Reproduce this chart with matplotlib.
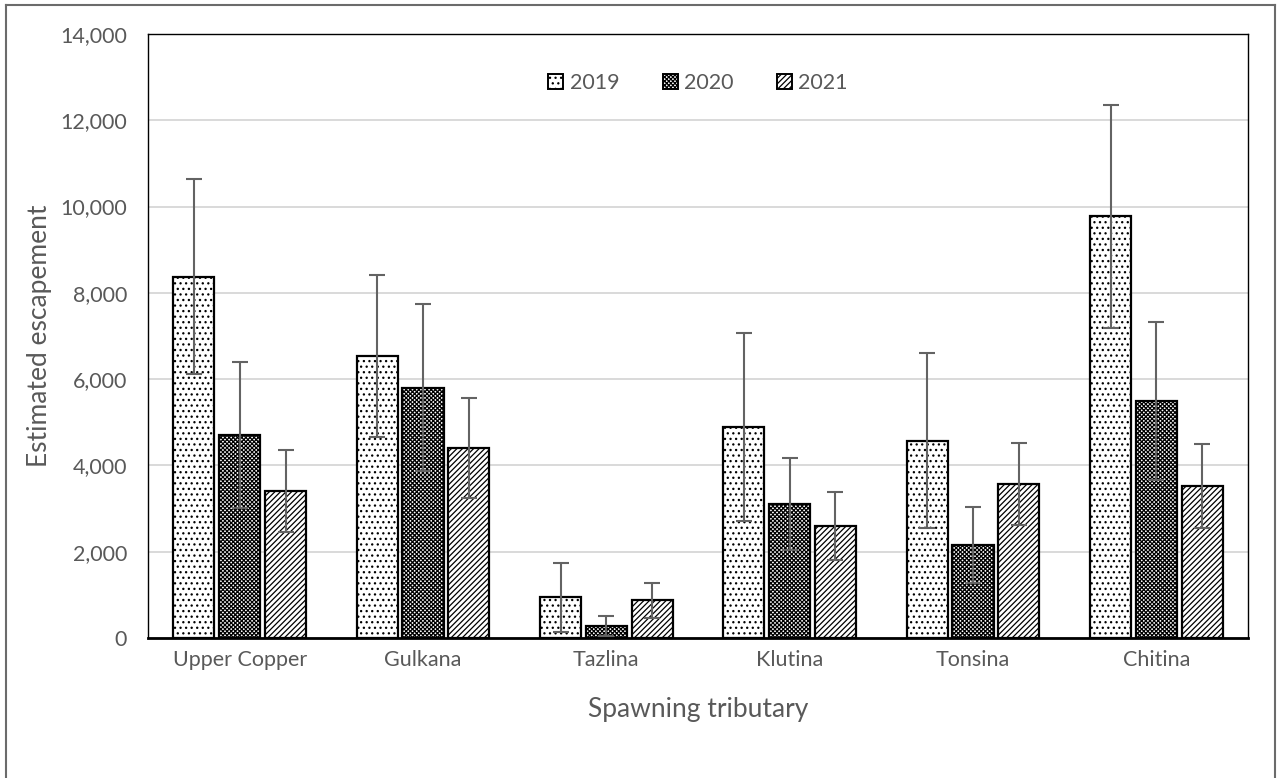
import matplotlib
matplotlib.use("Agg")
import matplotlib.pyplot as plt
import numpy as np
from matplotlib.lines import Line2D
from matplotlib.ticker import FuncFormatter, MultipleLocator

# Estimated escapement by spawning tributary and year, with error-bar half-widths
tributaries = ["Upper Copper", "Gulkana", "Tazlina", "Klutina", "Tonsina", "Chitina"]
years = ["2019", "2020", "2021"]
esc_2019 = [8370, 6540, 950, 4890, 4570, 9770]
esc_2020 = [4700, 5800, 280, 3110, 2160, 5500]
esc_2021 = [3410, 4400, 870, 2600, 3570, 3530]
err_2019 = [2260, 1880, 800, 2180, 2025, 2595]
err_2020 = [1690, 1935, 240, 1060, 885, 1835]
err_2021 = [945, 1160, 410, 790, 960, 975]

plt.rcParams["font.family"] = ["Lato", "DejaVu Sans"]
plt.rcParams["hatch.linewidth"] = 0.9
plt.rcParams["hatch.color"] = "black"

fig = plt.figure(figsize=(12.78, 7.78), dpi=100)
ax = fig.add_axes([148 / 1278, 1 - 638 / 778, 1100 / 1278, 604 / 778])

text_color = "#595959"
series = [esc_2019, esc_2020, esc_2021]
errors = [err_2019, err_2020, err_2021]
hatches = ["...", "xxxxxxxx", "//////"]
x = np.arange(len(tributaries))
width = 0.225
offsets = [-0.25, 0.0, 0.25]

for vals, errs, hatch, off, label in zip(series, errors, hatches, offsets, years):
    ax.bar(x + off, vals, width=width, color="white", edgecolor="black",
           linewidth=1.6, hatch=hatch, label=label, zorder=2)
    ax.errorbar(x + off, vals, yerr=errs, fmt="none", ecolor="#636363",
                elinewidth=1.5, capsize=6, capthick=1.5, zorder=3)

ax.set_xlim(-0.5, len(tributaries) - 0.5)
ax.set_ylim(0, 14000)
ax.yaxis.set_major_locator(MultipleLocator(2000))
ax.yaxis.set_major_formatter(FuncFormatter(lambda v, p: f"{int(v):,}"))
ax.set_xticks(x)
ax.set_xticklabels(tributaries)
ax.grid(axis="y", color="#d9d9d9", linewidth=1.4, zorder=0)
ax.set_axisbelow(True)
ax.tick_params(axis="both", length=0, labelsize=15.5, colors=text_color)
ax.tick_params(axis="y", pad=15)
ax.tick_params(axis="x", pad=9)

for side in ["left", "top", "right"]:
    ax.spines[side].set_color("black")
    ax.spines[side].set_linewidth(1.0)
ax.spines["bottom"].set_color("black")
ax.spines["bottom"].set_linewidth(2.0)

ax.set_ylabel("Estimated escapement", fontsize=19, color=text_color)
ax.set_xlabel("Spawning tributary", fontsize=19, color=text_color)
ax.yaxis.set_label_coords((52 - 148) / 1100, 0.5)
ax.xaxis.set_label_coords(0.5, (638 - 697) / 604)

leg = ax.legend(loc="center", bbox_to_anchor=(0.5, 0.919), ncol=3, frameon=False,
                fontsize=15.5, handlelength=0.7, handleheight=0.7, handletextpad=0.3,
                columnspacing=2.0, labelcolor=text_color)
for h in leg.legend_handles:
    h.set_linewidth(1.4)

# Outer chart frame
frame_kw = dict(color="#6b6b6b", linewidth=1.5, transform=fig.transFigure)
fig.add_artist(Line2D([6 / 1278, 6 / 1278], [1 - 5 / 778, 0], **frame_kw))
fig.add_artist(Line2D([1275 / 1278, 1275 / 1278], [1 - 5 / 778, 0], **frame_kw))
fig.add_artist(Line2D([6 / 1278, 1275 / 1278], [1 - 5 / 778, 1 - 5 / 778], **frame_kw))

fig.savefig("out.png", dpi=100)
